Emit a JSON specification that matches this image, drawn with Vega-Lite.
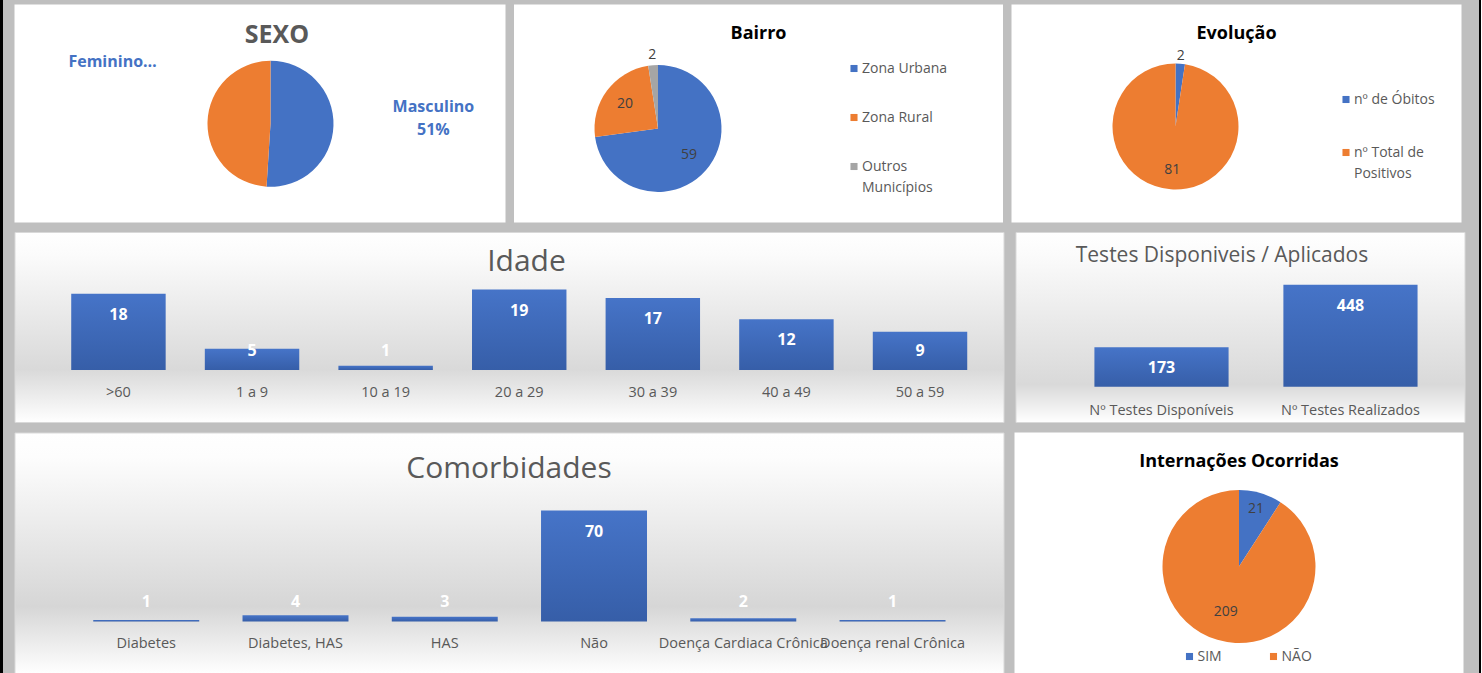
{
  "$schema": "https://vega.github.io/schema/vega-lite/v6.json",
  "background": "#bfbfbf",
  "padding": 0,
  "config": {
    "font": "Open Sans",
    "view": {"stroke": "#d9d9d9"},
    "title": {"anchor": "middle", "frame": "group", "color": "#595959"},
    "axis": {"grid": false},
    "style": {"guide-label": {"lineHeight": 21}},
    "legend": {"title": null, "orient": "none", "symbolType": "square", "symbolSize": 50, "labelFontSize": 14, "labelColor": "#595959", "padding": 0, "labelOffset": 1, "symbolStrokeWidth": 0}
  },
  "datasets": {
    "sexo": [
      {"sexo": "Masculino", "pct": 51, "ordem": 1, "rotulo": "Masculino\n51%"},
      {"sexo": "Feminino", "pct": 49, "ordem": 2, "rotulo": "Feminino…"}
    ],
    "bairro": [
      {"zona": "Zona Urbana", "n": 59, "ordem": 1},
      {"zona": "Zona Rural", "n": 20, "ordem": 2},
      {"zona": "Outros Municípios", "n": 2, "ordem": 3}
    ],
    "evolucao": [
      {"evolucao": "nº de Óbitos", "n": 2, "ordem": 1},
      {"evolucao": "nº Total de Positivos", "n": 81, "ordem": 2}
    ],
    "idade": [
      {"faixa": ">60", "n": 18},
      {"faixa": "1 a 9", "n": 5},
      {"faixa": "10 a 19", "n": 1},
      {"faixa": "20 a 29", "n": 19},
      {"faixa": "30 a 39", "n": 17},
      {"faixa": "40 a 49", "n": 12},
      {"faixa": "50 a 59", "n": 9}
    ],
    "testes": [
      {"teste": "Nº Testes Disponíveis", "n": 173},
      {"teste": "Nº Testes Realizados", "n": 448}
    ],
    "comorb": [
      {"comorbidade": "Diabetes", "n": 1},
      {"comorbidade": "Diabetes, HAS", "n": 4},
      {"comorbidade": "HAS", "n": 3},
      {"comorbidade": "Não", "n": 70},
      {"comorbidade": "Doença Cardiaca Crônica", "n": 2},
      {"comorbidade": "Doença renal Crônica", "n": 1}
    ],
    "intern": [
      {"internacao": "SIM", "n": 21, "ordem": 1},
      {"internacao": "NÃO", "n": 209, "ordem": 2}
    ],
    "vazio": []
  },
  "spacing": 10.5,
  "resolve": {"scale": {"x": "independent", "y": "independent", "color": "independent", "theta": "independent"}, "legend": {"color": "independent"}},
  "hconcat": [
    {"width": 3, "height": 673, "data": {"name": "vazio"}, "mark": {"type": "point", "opacity": 0}, "encoding": {}, "view": {"fill": "#000000", "stroke": null}},
    {
      "spacing": 13.5,
      "resolve": {"scale": {"x": "independent", "y": "independent", "color": "independent", "theta": "independent"}, "legend": {"color": "independent"}},
      "hconcat": [
        {
          "spacing": 3.5,
          "resolve": {"scale": {"x": "independent", "y": "independent", "color": "independent", "theta": "independent"}, "legend": {"color": "independent"}},
          "vconcat": [
            {"width": 1, "height": 1, "data": {"name": "vazio"}, "mark": {"type": "point", "opacity": 0}, "encoding": {}, "view": {"fill": null, "stroke": null}},
            {
              "spacing": 8.5,
              "resolve": {"scale": {"x": "independent", "y": "independent", "color": "independent", "theta": "independent"}, "legend": {"color": "independent"}},
              "vconcat": [
                {
                  "spacing": 8.5,
                  "resolve": {"scale": {"x": "independent", "y": "independent", "color": "independent", "theta": "independent"}, "legend": {"color": "independent"}},
                  "hconcat": [
                    {
                      "width": 491, "height": 218,
                      "data": {"name": "sexo"},
                      "view": {"fill": "#ffffff"},
                      "title": {"text": "SEXO", "fontSize": 25, "fontWeight": "bold", "color": "#595959", "offset": -43, "dx": 17},
                      "encoding": {
                        "theta": {"field": "pct", "type": "quantitative", "stack": true},
                        "order": {"field": "ordem", "type": "quantitative"}
                      },
                      "layer": [
                        {
                          "mark": {"type": "arc", "radius": 63, "xOffset": 10.5, "yOffset": 10.3},
                          "encoding": {"color": {"field": "sexo", "type": "nominal", "scale": {"domain": ["Masculino", "Feminino"], "range": ["#4472C4", "#ED7D31"]}, "legend": null}}
                        },
                        {
                          "mark": {"type": "text", "radius": 163, "xOffset": 10.5, "yOffset": -11.2, "fontSize": 16, "fontWeight": "bold", "fill": "#4472C4", "lineBreak": "\n", "lineHeight": 23},
                          "encoding": {"detail": {"field": "sexo"}, "text": {"condition": {"test": "datum.sexo !== 'Masculino'", "value": ""}, "field": "rotulo"}}
                        },
                        {
                          "mark": {"type": "text", "radius": 158, "xOffset": 10.5, "yOffset": -46.3, "fontSize": 16, "fontWeight": "bold", "fill": "#4472C4"},
                          "encoding": {"detail": {"field": "sexo"}, "text": {"condition": {"test": "datum.sexo !== 'Feminino'", "value": ""}, "field": "rotulo"}}
                        }
                      ]
                    },
                    {
                      "width": 489, "height": 218,
                      "data": {"name": "bairro"},
                      "view": {"fill": "#ffffff"},
                      "title": {"text": "Bairro", "fontSize": 18, "fontWeight": "bold", "color": "#000000", "offset": -38.5},
                      "encoding": {
                        "theta": {"field": "n", "type": "quantitative", "stack": true},
                        "order": {"field": "ordem", "type": "quantitative"}
                      },
                      "layer": [
                        {
                          "mark": {"type": "arc", "radius": 63.5, "xOffset": -100.5, "yOffset": 15},
                          "encoding": {"color": {"field": "zona", "type": "nominal", "scale": {"domain": ["Zona Urbana", "Zona Rural", "Outros Municípios"], "range": ["#4472C4", "#ED7D31", "#A5A5A5"]},
                            "legend": {"legendX": 333, "legendY": 57, "rowPadding": 35, "labelExpr": "datum.label == 'Outros Municípios' ? ['Outros', 'Municípios'] : datum.label"}}}
                        },
                        {
                          "mark": {"type": "text", "radius": 41, "xOffset": -100.5, "yOffset": 15, "fontSize": 14, "fill": "#404040"},
                          "encoding": {"detail": {"field": "zona"}, "text": {"condition": {"test": "datum.n < 5", "value": ""}, "field": "n", "type": "quantitative"}}
                        },
                        {
                          "mark": {"type": "text", "radius": 74, "xOffset": -100.5, "yOffset": 15, "fontSize": 14, "fill": "#404040"},
                          "encoding": {"detail": {"field": "zona"}, "text": {"condition": {"test": "datum.n >= 5", "value": ""}, "field": "n", "type": "quantitative"}}
                        }
                      ]
                    },
                    {
                      "width": 450, "height": 218,
                      "data": {"name": "evolucao"},
                      "view": {"fill": "#ffffff"},
                      "title": {"text": "Evolução", "fontSize": 18, "fontWeight": "bold", "color": "#000000", "offset": -38.5},
                      "encoding": {
                        "theta": {"field": "n", "type": "quantitative", "stack": true},
                        "order": {"field": "ordem", "type": "quantitative"}
                      },
                      "layer": [
                        {
                          "mark": {"type": "arc", "radius": 63, "xOffset": -61, "yOffset": 13},
                          "encoding": {"color": {"field": "evolucao", "type": "nominal", "scale": {"domain": ["nº de Óbitos", "nº Total de Positivos"], "range": ["#4472C4", "#ED7D31"]},
                            "legend": {"legendX": 327.5, "legendY": 88, "rowPadding": 39, "labelExpr": "datum.label == 'nº Total de Positivos' ? ['nº Total de', 'Positivos'] : datum.label"}}}
                        },
                        {
                          "mark": {"type": "text", "radius": 44, "xOffset": -61, "yOffset": 13, "fontSize": 14, "fill": "#404040"},
                          "encoding": {"detail": {"field": "evolucao"}, "text": {"condition": {"test": "datum.n < 5", "value": ""}, "field": "n", "type": "quantitative"}}
                        },
                        {
                          "mark": {"type": "text", "radius": 71, "xOffset": -61, "yOffset": 13, "fontSize": 14, "fill": "#404040"},
                          "encoding": {"detail": {"field": "evolucao"}, "text": {"condition": {"test": "datum.n >= 5", "value": ""}, "field": "n", "type": "quantitative"}}
                        }
                      ]
                    }
                  ]
                },
                {
                  "spacing": 10,
                  "resolve": {"scale": {"x": "independent", "y": "independent", "color": "independent", "theta": "independent"}, "legend": {"color": "independent"}},
                  "hconcat": [
                    {
                      "width": 989, "height": 190,
                      "data": {"name": "idade"},
                      "view": {"fill": {"gradient": "linear", "x1": 0, "y1": 0, "x2": 0, "y2": 1, "stops": [{"offset": 0, "color": "#ffffff"}, {"offset": 0.12, "color": "#fbfbfb"}, {"offset": 0.72, "color": "#d9d9d9"}, {"offset": 1, "color": "#ffffff"}]}},
                      "title": {"text": "Idade", "fontSize": 30, "fontWeight": "normal", "color": "#595959", "offset": -45, "dx": 17.5},
                      "encoding": {
                        "x": {"field": "faixa", "type": "nominal", "sort": null,
                          "scale": {"paddingInner": 0.293, "paddingOuter": 0.348, "align": 0.61},
                          "axis": {"orient": "bottom", "offset": -30, "title": null, "labelAngle": 0, "domain": false, "ticks": false, "tickSize": 0, "labelPadding": 0, "labelBaseline": "middle", "labelFontSize": 14.5, "labelColor": "#595959", "labelLimit": 0}}
                      },
                      "layer": [
                        {
                          "mark": {"type": "bar", "color": {"gradient": "linear", "x1": 0, "y1": 0, "x2": 0, "y2": 1, "stops": [{"offset": 0, "color": "#4674C8"}, {"offset": 1, "color": "#365EA8"}]}},
                          "encoding": {
                            "y": {"field": "n", "type": "quantitative", "scale": {"domain": [-12.3, 32.6], "nice": false, "zero": false}, "axis": null},
                            "y2": {"datum": 0}
                          }
                        },
                        {
                          "transform": [{"calculate": "max(datum.n, 9.5)", "as": "ly"}],
                          "mark": {"type": "text", "dy": 21, "fill": "#ffffff", "fontSize": 16, "fontWeight": "bold", "baseline": "middle"},
                          "encoding": {"y": {"field": "ly", "type": "quantitative"}, "text": {"field": "n", "type": "quantitative"}}
                        }
                      ]
                    },
                    {
                      "width": 449, "height": 190,
                      "data": {"name": "testes"},
                      "view": {"fill": {"gradient": "linear", "x1": 0, "y1": 0, "x2": 0, "y2": 1, "stops": [{"offset": 0, "color": "#ffffff"}, {"offset": 0.12, "color": "#fbfbfb"}, {"offset": 0.8, "color": "#d9d9d9"}, {"offset": 1, "color": "#ffffff"}]}},
                      "title": {"text": "Testes Disponiveis / Aplicados", "fontSize": 21, "fontWeight": "normal", "color": "#595959", "offset": -34, "dx": -18},
                      "encoding": {
                        "x": {"field": "teste", "type": "nominal", "sort": null,
                          "scale": {"paddingInner": 0.29, "paddingOuter": 0.333, "align": 0.627},
                          "axis": {"orient": "bottom", "offset": -12, "title": null, "labelAngle": 0, "domain": false, "ticks": false, "tickSize": 0, "labelPadding": 0, "labelBaseline": "middle", "labelFontSize": 14.5, "labelColor": "#595959", "labelLimit": 0}}
                      },
                      "layer": [
                        {
                          "mark": {"type": "bar", "color": {"gradient": "linear", "x1": 0, "y1": 0, "x2": 0, "y2": 1, "stops": [{"offset": 0, "color": "#4674C8"}, {"offset": 1, "color": "#365EA8"}]}},
                          "encoding": {
                            "y": {"field": "n", "type": "quantitative", "scale": {"domain": [-155, 679.4], "nice": false, "zero": false}, "axis": null},
                            "y2": {"datum": 0}
                          }
                        },
                        {
                          "mark": {"type": "text", "dy": 21, "fill": "#ffffff", "fontSize": 16, "fontWeight": "bold", "baseline": "middle"},
                          "encoding": {"y": {"field": "n", "type": "quantitative"}, "text": {"field": "n", "type": "quantitative"}}
                        }
                      ]
                    }
                  ]
                },
                {
                  "spacing": 10,
                  "resolve": {"scale": {"x": "independent", "y": "independent", "color": "independent", "theta": "independent"}, "legend": {"color": "independent"}},
                  "hconcat": [
                    {
                      "width": 989, "height": 241,
                      "data": {"name": "comorb"},
                      "view": {"fill": {"gradient": "linear", "x1": 0, "y1": 0, "x2": 0, "y2": 1, "stops": [{"offset": 0, "color": "#ffffff"}, {"offset": 0.1, "color": "#fdfdfd"}, {"offset": 0.72, "color": "#d6d6d6"}, {"offset": 1, "color": "#ffffff"}]}},
                      "title": {"text": "Comorbidades", "fontSize": 30, "fontWeight": "normal", "color": "#595959", "offset": -51},
                      "encoding": {
                        "x": {"field": "comorbidade", "type": "nominal", "sort": null,
                          "scale": {"paddingInner": 0.29, "paddingOuter": 0.458, "align": 0.576},
                          "axis": {"orient": "bottom", "offset": -29.7, "title": null, "labelAngle": 0, "domain": false, "ticks": false, "tickSize": 0, "labelPadding": 0, "labelBaseline": "middle", "labelFontSize": 14.5, "labelColor": "#595959", "labelLimit": 0}}
                      },
                      "layer": [
                        {
                          "mark": {"type": "bar", "color": {"gradient": "linear", "x1": 0, "y1": 0, "x2": 0, "y2": 1, "stops": [{"offset": 0, "color": "#4674C8"}, {"offset": 1, "color": "#365EA8"}]}},
                          "encoding": {
                            "y": {"field": "n", "type": "quantitative", "scale": {"domain": [-32.8, 119.2], "nice": false, "zero": false}, "axis": null},
                            "y2": {"datum": 0}
                          }
                        },
                        {
                          "transform": [{"calculate": "max(datum.n, 25.4)", "as": "ly"}],
                          "mark": {"type": "text", "dy": 21, "fill": "#ffffff", "fontSize": 16, "fontWeight": "bold", "baseline": "middle"},
                          "encoding": {"y": {"field": "ly", "type": "quantitative"}, "text": {"field": "n", "type": "quantitative"}}
                        }
                      ]
                    },
                    {
                      "width": 449, "height": 241,
                      "data": {"name": "intern"},
                      "view": {"fill": "#ffffff"},
                      "title": {"text": "Internações Ocorridas", "fontSize": 18, "fontWeight": "bold", "color": "#000000", "offset": -38.6},
                      "encoding": {
                        "theta": {"field": "n", "type": "quantitative", "stack": true},
                        "order": {"field": "ordem", "type": "quantitative"}
                      },
                      "layer": [
                        {
                          "mark": {"type": "arc", "radius": 76.5, "xOffset": 0, "yOffset": 13.5},
                          "encoding": {"color": {"field": "internacao", "type": "nominal", "scale": {"domain": ["SIM", "NÃO"], "range": ["#4472C4", "#ED7D31"]},
                            "legend": {"legendX": 168, "legendY": 217, "direction": "horizontal", "columnPadding": 44}}}
                        },
                        {
                          "mark": {"type": "text", "radius": 60, "xOffset": 0, "yOffset": 13.5, "fontSize": 14, "fill": "#404040"},
                          "encoding": {"detail": {"field": "internacao"}, "text": {"condition": {"test": "datum.internacao !== 'SIM'", "value": ""}, "field": "n", "type": "quantitative"}}
                        },
                        {
                          "mark": {"type": "text", "radius": 47, "xOffset": 0, "yOffset": 13.5, "fontSize": 14, "fill": "#404040"},
                          "encoding": {"detail": {"field": "internacao"}, "text": {"condition": {"test": "datum.internacao !== 'NÃO'", "value": ""}, "field": "n", "type": "quantitative"}}
                        }
                      ]
                    }
                  ]
                }
              ]
            }
          ]
        },
        {
          "spacing": 0,
          "hconcat": [
            {"width": 2, "height": 673, "data": {"name": "vazio"}, "mark": {"type": "point", "opacity": 0}, "encoding": {}, "view": {"fill": "#000000", "stroke": null}},
            {"width": 3, "height": 673, "data": {"name": "vazio"}, "mark": {"type": "point", "opacity": 0}, "encoding": {}, "view": {"fill": "#ffffff", "stroke": null}}
          ]
        }
      ]
    }
  ]
}
